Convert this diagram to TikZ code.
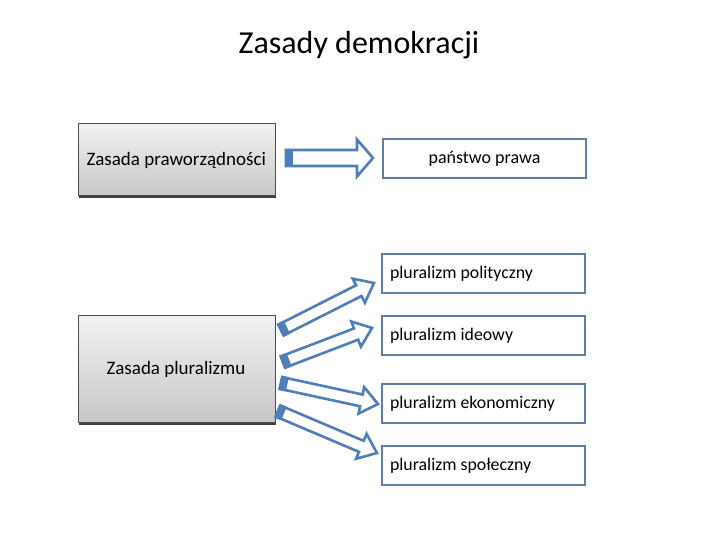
\documentclass[tikz,border=0pt]{standalone}
\usepackage{fontspec}
\setmainfont{Carlito}
\usetikzlibrary{calc}
\definecolor{arrblue}{HTML}{4F7FB8}
\definecolor{boxblue}{HTML}{5B7FA9}
\tikzset{
  greybox/.style={draw=black!70, line width=0.8pt, top color=black!5, bottom color=black!22, minimum width=197pt, inner sep=0pt},
  greytext/.style={font=\fontsize{19}{22}\selectfont},
  bluebox/.style={draw=boxblue, line width=2pt, fill=white, minimum width=203pt, minimum height=39pt, inner sep=0pt, font=\fontsize{18}{21}\selectfont},
  bluetext/.style={font=\fontsize{17.8}{21}\selectfont, anchor=west},
  arrline/.style={draw=arrblue, line width=2.6pt, fill=white, line join=miter},
}
\newcommand\blockarr[5]{%
  \path let \p1=(#1), \p2=(#2), \n1={atan2(\y2-\y1,\x2-\x1)}, \n2={veclen(\x2-\x1,\y2-\y1)} in
    \pgfextra{\xdef\bAang{\n1}\xdef\bAlen{\n2}\xdef\bAx{\x1}\xdef\bAy{\y1}};
  \begin{scope}[shift={(\bAx,\bAy)}, rotate=\bAang, x=1pt, y=1pt]
    \pgfmathsetmacro\bAneck{\bAlen-#5}
    \draw[arrline] (0,-#3) -- (\bAneck,-#3) -- (\bAneck,-#4) -- (\bAlen,0) -- (\bAneck,#4) -- (\bAneck,#3) -- (0,#3) -- cycle;
    \fill[arrblue] (-1.3,-#3-1.3) rectangle (6.5,#3+1.3);
  \end{scope}
}
\begin{document}
\begin{tikzpicture}[x=1pt, y=-1pt]
\useasboundingbox[fill=white] (0,0) rectangle (720,540);
\node[font=\fontsize{32}{36}\selectfont] (title) at (359,45) {Zasady demokracji};
% grey boxes
\fill[black!75] (79,125) rectangle (276,198);
\node[greybox, minimum height=72pt, anchor=north west] (zp) at (78,123) {};
\node[greytext, anchor=west] (zptext) at (83,160) {Zasada praworządności};
\fill[black!75] (79,317) rectangle (276,425);
\node[greybox, minimum height=107pt, anchor=north west] (zpl) at (78,315) {};
\node[greytext] (zpltext) at (176,369) {Zasada pluralizmu};
% blue boxes
\node[bluebox, anchor=north west] (pp) at (382,138) {państwo prawa};
\node[bluebox, anchor=north west] (b1) at (381,253) {};
\node[bluebox, anchor=north west] (b2) at (381,315) {};
\node[bluebox, anchor=north west] (b3) at (381,383) {};
\node[bluebox, anchor=north west] (b4) at (381,445) {};
\node[bluetext] (b1t) at ([xshift=5.5pt]b1.west) {pluralizm polityczny};
\node[bluetext] (b2t) at ([xshift=5.5pt]b2.west) {pluralizm ideowy};
\node[bluetext] (b3t) at ([xshift=5.5pt]b3.west) {pluralizm ekonomiczny};
\node[bluetext] (b4t) at ([xshift=5.5pt]b4.west) {pluralizm społeczny};
% arrow endpoints
\coordinate (t0) at (286,158); \coordinate (h0) at (373,158);
\coordinate (t1) at (281,330); \coordinate (h1) at (374,283);
\coordinate (t2) at (283,362); \coordinate (h2) at (372,328);
\coordinate (t3) at (281,383); \coordinate (h3) at (378,404);
\coordinate (t4) at (278,411); \coordinate (h4) at (377,453);
\blockarr{t0}{h0}{8}{18.5}{16}
\blockarr{t1}{h1}{6}{13.5}{17}
\blockarr{t2}{h2}{6}{13.5}{17}
\blockarr{t3}{h3}{6}{13.5}{17}
\blockarr{t4}{h4}{6}{13.5}{17}
\end{tikzpicture}
\end{document}
